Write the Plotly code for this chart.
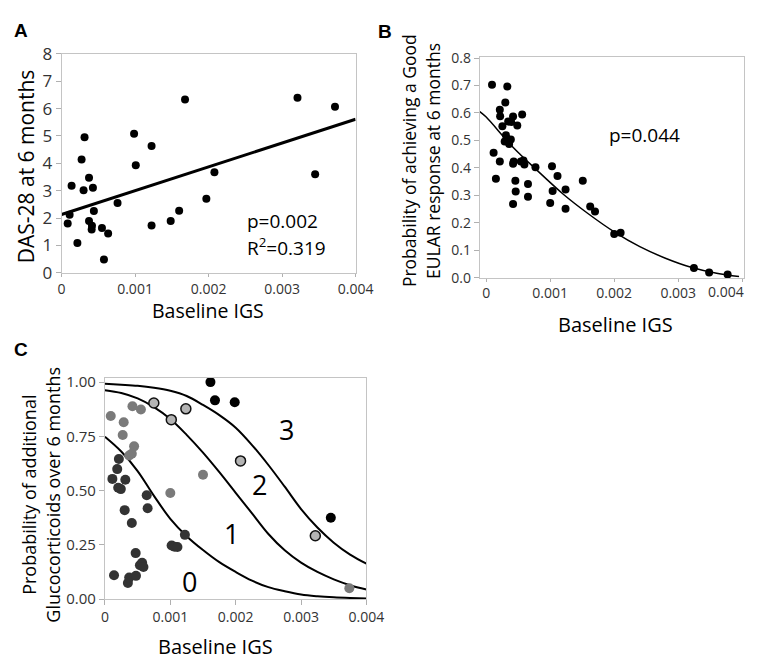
import plotly.graph_objects as go

# ---------------- Panel A data ----------------
a_igs = [0.000084, 0.00011, 0.000137, 0.000216, 0.000273, 0.0003, 0.000313, 0.000374, 0.000427,
         0.000374, 0.00044, 0.000414, 0.00041, 0.00055, 0.000634, 0.000577, 0.000762, 0.000987,
         0.00101, 0.001225, 0.001225, 0.001485, 0.0016, 0.00168, 0.00197, 0.00208, 0.00321,
         0.00345, 0.00372]
a_das = [1.80, 2.12, 3.18, 1.09, 4.14, 3.02, 4.95, 3.47, 3.11,
         1.89, 2.26, 1.72, 1.58, 1.64, 1.44, 0.49, 2.55, 5.08,
         3.93, 4.63, 1.73, 1.89, 2.27, 6.33, 2.71, 3.67, 6.39,
         3.60, 6.07]
a_fit_x = [0.0, 0.004]
a_fit_y = [2.13, 5.61]

# ---------------- Panel B data ----------------
b_igs = [0.000091, 0.00033, 0.000116, 0.000152, 0.000213, 0.000213, 0.000218, 0.000253, 0.000299,
         0.000309, 0.000289, 0.000344, 0.00039, 0.000359, 0.000385, 0.00042, 0.00042, 0.00043,
         0.000456, 0.000461, 0.00042, 0.000486, 0.000562, 0.000542, 0.000582, 0.000597, 0.000653,
         0.000653, 0.00077, 0.001028, 0.001038, 0.001, 0.001114, 0.00124, 0.00124, 0.001509,
         0.001625, 0.0017, 0.002, 0.0021, 0.003245, 0.003483, 0.003772]
b_prob = [0.703, 0.696, 0.455, 0.360, 0.423, 0.612, 0.588, 0.552, 0.638,
          0.519, 0.496, 0.569, 0.567, 0.487, 0.503, 0.587, 0.415, 0.423,
          0.353, 0.314, 0.268, 0.554, 0.594, 0.423, 0.427, 0.412, 0.341,
          0.295, 0.402, 0.406, 0.316, 0.272, 0.370, 0.321, 0.251, 0.353,
          0.259, 0.241, 0.159, 0.164, 0.035, 0.019, 0.012]
b_fit_x = [-0.0001, 0.0, 0.0004, 0.0008, 0.0012, 0.0016, 0.002, 0.0024, 0.0028, 0.0032, 0.0036, 0.00395]
b_fit_y = [0.605, 0.585, 0.48, 0.39, 0.305, 0.232, 0.167, 0.113, 0.071, 0.038, 0.016, 0.004]

# ---------------- Panel C data ----------------
c0_igs = [0.000139, 0.000114, 0.000188, 0.000213, 0.000203, 0.000243, 0.000312, 0.000302, 0.000351,
          0.000371, 0.000411, 0.000475, 0.00047, 0.000535, 0.000569, 0.000589, 0.000639, 0.000653,
          0.00102, 0.001064, 0.001109, 0.001223]
c0_prob = [0.110, 0.554, 0.599, 0.646, 0.513, 0.507, 0.550, 0.410, 0.074,
           0.099, 0.351, 0.107, 0.212, 0.156, 0.167, 0.148, 0.479, 0.419,
           0.247, 0.241, 0.240, 0.296]
c1_igs = [0.000089, 0.000287, 0.000272, 0.000421, 0.00055, 0.000446, 0.000411, 0.000371, 0.001,
          0.0015, 0.003738]
c1_prob = [0.844, 0.815, 0.756, 0.889, 0.874, 0.704, 0.670, 0.662, 0.489,
           0.573, 0.050]
c2_igs = [0.000748, 0.001015, 0.001238, 0.002074, 0.003218]
c2_prob = [0.904, 0.827, 0.877, 0.637, 0.292]
c3_igs = [0.001614, 0.001683, 0.001985, 0.003455]
c3_prob = [1.0, 0.916, 0.907, 0.375]

curve_x = [0.0, 0.00025, 0.0005, 0.00075, 0.001, 0.00125, 0.0015, 0.00175, 0.002,
           0.00225, 0.0025, 0.00275, 0.003, 0.00325, 0.0035, 0.00375, 0.004]
curve1_y = [0.748, 0.68, 0.59, 0.476, 0.37, 0.29, 0.226, 0.17, 0.125,
            0.085, 0.055, 0.036, 0.021, 0.013, 0.008, 0.005, 0.003]
curve2_y = [0.963, 0.95, 0.925, 0.885, 0.83, 0.757, 0.675, 0.585, 0.49,
            0.395, 0.30, 0.225, 0.168, 0.125, 0.091, 0.064, 0.044]
curve3_y = [0.992, 0.988, 0.983, 0.974, 0.96, 0.936, 0.895, 0.848, 0.79,
            0.71, 0.618, 0.518, 0.415, 0.33, 0.26, 0.205, 0.163]

ticks_x = [0, 0.001, 0.002, 0.003, 0.004]
ticks_x_text = ["0", "0.001", "0.002", "0.003", "0.004"]
b_ticks_x_text = ["0", "0.001", "0.002", "0.003", ""]
b_last_tick_text = "0.004"
a_ticks_y = [0, 1, 2, 3, 4, 5, 6, 7, 8]
b_ticks_y = [0, 0.1, 0.2, 0.3, 0.4, 0.5, 0.6, 0.7, 0.8]
b_ticks_y_text = ["0.0", "0.1", "0.2", "0.3", "0.4", "0.5", "0.6", "0.7", "0.8"]
c_ticks_y = [0, 0.25, 0.5, 0.75, 1.0]
c_ticks_y_text = ["0.00", "0.25", "0.50", "0.75", "1.00"]
c_right_ticks = [0.511, 0.812, 0.930]
c_group_labels = ["0", "1", "2", "3"]
c_group_label_x = [0.0013, 0.00194, 0.00237, 0.00278]
c_group_label_y = [0.081, 0.301, 0.526, 0.782]

W, H = 761, 660
FONT = "Open Sans"
TICKC = "#333333"


def fx(p):
    return p / W


def fy(p):
    return 1 - p / H


fig = go.Figure()

# Panel A
fig.add_trace(go.Scatter(x=a_fit_x, y=a_fit_y, mode="lines", line=dict(color="black", width=3),
                         xaxis="x", yaxis="y", showlegend=False))
fig.add_trace(go.Scatter(x=a_igs, y=a_das, mode="markers", marker=dict(color="black", size=8),
                         xaxis="x", yaxis="y", showlegend=False, cliponaxis=False))

# Panel B
fig.add_trace(go.Scatter(x=b_fit_x, y=b_fit_y, mode="lines", line=dict(color="black", width=1.5, shape="spline"),
                         xaxis="x2", yaxis="y2", showlegend=False))
fig.add_trace(go.Scatter(x=b_igs, y=b_prob, mode="markers", marker=dict(color="black", size=8),
                         xaxis="x2", yaxis="y2", showlegend=False, cliponaxis=False))

# Panel C
for cy in (curve1_y, curve2_y, curve3_y):
    fig.add_trace(go.Scatter(x=curve_x, y=cy, mode="lines", line=dict(color="black", width=2, shape="spline"),
                             xaxis="x3", yaxis="y3", showlegend=False))
fig.add_trace(go.Scatter(x=c1_igs, y=c1_prob, mode="markers", marker=dict(color="#7a7a7a", size=10),
                         xaxis="x3", yaxis="y3", showlegend=False, cliponaxis=False))
fig.add_trace(go.Scatter(x=c0_igs, y=c0_prob, mode="markers", marker=dict(color="#333333", size=10),
                         xaxis="x3", yaxis="y3", showlegend=False, cliponaxis=False))
fig.add_trace(go.Scatter(x=c2_igs, y=c2_prob, mode="markers",
                         marker=dict(color="#b4b4b4", size=10, line=dict(color="#111111", width=1.5)),
                         xaxis="x3", yaxis="y3", showlegend=False, cliponaxis=False))
fig.add_trace(go.Scatter(x=c3_igs, y=c3_prob, mode="markers", marker=dict(color="black", size=10),
                         xaxis="x3", yaxis="y3", showlegend=False, cliponaxis=False))

axis_common = dict(showgrid=False, zeroline=False, showline=True, linecolor="#c4c4c4", linewidth=1,
                   mirror=True, ticks="outside", ticklen=5, tickcolor="#b0b0b0")

fig.update_layout(
    width=W, height=H, margin=dict(l=0, r=0, t=0, b=0),
    paper_bgcolor="white", plot_bgcolor="white",
    xaxis=dict(axis_common, domain=[fx(51), fx(353.8)], range=[0, 0.004], anchor="y",
               tickvals=ticks_x, ticktext=ticks_x_text, ticklen=3,
               tickfont=dict(family=FONT, size=14, color=TICKC)),
    yaxis=dict(axis_common, domain=[fy(262), fy(35)], range=[0, 8], anchor="x",
               tickvals=a_ticks_y, tickfont=dict(family=FONT, size=17, color=TICKC)),
    xaxis2=dict(axis_common, domain=[fx(481.7), fx(753.3)], range=[-0.0001, 0.00402], anchor="y2",
                tickvals=ticks_x, ticktext=b_ticks_x_text, ticklen=3,
                tickfont=dict(family=FONT, size=14, color=TICKC)),
    yaxis2=dict(axis_common, domain=[fy(267), fy(38)], range=[0, 0.805], anchor="x2",
                tickvals=b_ticks_y, ticktext=b_ticks_y_text, tickfont=dict(family=FONT, size=14, color=TICKC)),
    xaxis3=dict(axis_common, domain=[fx(95.7), fx(365)], range=[0, 0.004], anchor="y3",
                tickvals=ticks_x, ticktext=ticks_x_text, tickfont=dict(family=FONT, size=14, color=TICKC)),
    yaxis3=dict(axis_common, domain=[fy(600), fy(370.7)], range=[0, 1.02], anchor="x3",
                tickvals=c_ticks_y, ticktext=c_ticks_y_text, tickfont=dict(family=FONT, size=15, color=TICKC)),
    yaxis4=dict(showgrid=False, zeroline=False, showline=False, overlaying="y3", side="right", anchor="x3",
                range=[0, 1.02], tickvals=c_right_ticks, showticklabels=False, ticks="outside",
                ticklen=5, tickcolor="#b0b0b0"),
)

ann = []


def txt(text, x, y, size, xref="paper", yref="paper", angle=0, xanchor="center", yanchor="middle", bold=False,
        family=FONT, color="black"):
    ann.append(dict(text=("<b>%s</b>" % text) if bold else text, x=x, y=y, xref=xref, yref=yref,
                    showarrow=False, textangle=angle, xanchor=xanchor, yanchor=yanchor,
                    font=dict(family=family, size=size, color=color)))


# panel letters
txt("A", fx(9), fy(11), 19, bold=True, family="Liberation Sans")
txt("B", fx(384), fy(12), 19, bold=True, family="Liberation Sans")
txt("C", fx(9), fy(341), 19, bold=True, family="Liberation Sans")

# Panel A titles
txt("Baseline IGS", fx(202), fy(301), 19.5)
txt("DAS-28 at 6 months", fx(14), fy(152), 21, angle=-90)
txt("p=0.002", 0.0025, 1.9, 19, xref="x", yref="y", xanchor="left")
txt("R<sup>2</sup>=0.319", 0.0025, 0.95, 19, xref="x", yref="y", xanchor="left")

# Panel B titles
txt(b_last_tick_text, fx(756), fy(281), 14, xanchor="right", color=TICKC)
txt("Baseline IGS", fx(621), fy(316), 20)
txt("Probability of achieving a Good", fx(409), fy(146), 17.5, angle=-90)
txt("EULAR response at 6 months", fx(433.5), fy(146), 17.5, angle=-90)
txt("p=0.044", 0.00189, 0.521, 19, xref="x2", yref="y2", xanchor="left")

# Panel C titles
txt("Baseline IGS", fx(210), fy(649), 20)
txt("Probability of additional", fx(17.5), fy(492), 18, angle=-90)
txt("Glucocorticoids over 6 months", fx(42), fy(492), 18, angle=-90)
for lab, lx, ly in zip(c_group_labels, c_group_label_x, c_group_label_y):
    txt(lab, lx, ly, 27, xref="x3", yref="y3")

fig.update_layout(annotations=ann)
fig.write_html("out.html")
